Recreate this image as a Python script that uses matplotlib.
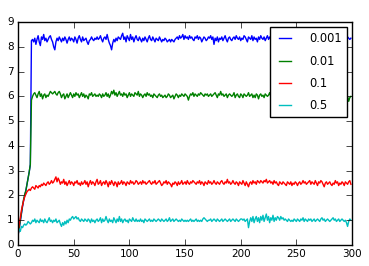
import matplotlib
matplotlib.use("Agg")
import matplotlib.pyplot as plt
import numpy as np

labels = ["0.001", "0.01", "0.1", "0.5"]
colors = ["b", "g", "r", "c"]

ramp_blue = [0.4, 0.65, 0.95, 1.25, 1.55, 1.8, 2.0, 2.2, 2.45, 2.7, 2.95, 3.25]
steady_blue = [
    8.25, 8.3, 8.2, 8.35, 8.1, 8.3, 8.45, 8.2, 8.05, 8.4, 8.3, 8.5, 8.25, 8.35, 8.2, 8.3, 8.4, 8.45, 8.3, 8.2,
    8.0, 7.88, 8.2, 8.35, 8.25, 8.4, 8.3, 8.2, 8.35, 8.25, 8.4, 8.3, 8.15, 8.3, 8.4, 8.25, 8.35, 8.3, 8.2, 8.4,
    8.3, 8.15, 8.35, 8.45, 8.3, 8.2, 8.4, 8.25, 8.3, 8.35, 8.2, 8.1, 8.25, 8.3, 8.4, 8.3, 8.25, 8.35, 8.3, 8.4,
    8.3, 8.35, 8.45, 8.3, 8.2, 8.35, 8.4, 8.3, 8.5, 8.3, 8.15, 8.05, 7.88, 8.15, 8.3, 8.2, 8.35, 8.25, 8.4, 8.35,
    8.3, 8.45, 8.55, 8.3, 8.4, 8.2, 8.45, 8.35, 8.25, 8.5, 8.3, 8.4, 8.2, 8.35, 8.45, 8.3, 8.25, 8.4, 8.3, 8.2,
    8.35, 8.25, 8.4, 8.3, 8.2, 8.35, 8.45, 8.3, 8.25, 8.4, 8.3, 8.2, 8.35, 8.3, 8.25, 8.4, 8.3, 8.2, 8.3, 8.25,
    8.35, 8.3, 8.2, 8.25, 8.3, 8.2, 8.3, 8.25, 8.2, 8.3, 8.35, 8.4, 8.3, 8.45, 8.35, 8.4, 8.5, 8.3, 8.45, 8.35,
    8.4, 8.3, 8.45, 8.35, 8.4, 8.3, 8.25, 8.4, 8.35, 8.45, 8.3, 8.4, 8.35, 8.2, 8.3, 8.4, 8.35, 8.25, 8.3, 8.4,
    8.35, 8.45, 8.3, 8.4, 8.1, 8.35, 8.25, 8.4, 8.2, 8.35, 8.3, 8.4, 8.25, 8.35, 8.45, 8.3, 8.2, 8.35, 8.4, 8.3,
    8.25, 8.35, 8.4, 8.3, 8.45, 8.35, 8.3, 8.4, 8.25, 8.35, 8.3, 8.45, 8.4, 8.3, 8.2, 8.4, 8.35, 8.3, 8.45, 8.25,
    8.4, 8.3, 8.35, 8.2, 8.4, 8.3, 8.45, 8.35, 8.3, 8.4, 8.25, 8.35, 8.45, 8.3, 8.4, 8.3, 8.35, 8.25, 8.4, 8.3,
    8.35, 8.4, 8.3, 8.25, 8.35, 8.3, 8.4, 8.3, 8.15, 8.35, 8.3, 8.4, 8.35, 8.3, 8.25, 8.4, 8.3, 8.35, 8.3, 8.4,
    8.3, 8.35, 8.25, 8.4, 8.3, 8.35, 8.3, 8.4, 8.35, 8.3, 8.25, 8.35, 8.4, 8.3, 8.35, 8.3, 8.4, 8.3, 8.35, 8.3,
    8.25, 8.4, 8.3, 8.35, 8.3, 8.25, 8.4, 8.35, 8.3, 8.4, 8.3, 8.35, 8.25, 8.4, 8.35, 8.3, 8.4, 8.3, 8.35, 8.45,
    8.3, 8.4, 8.35, 8.3, 8.4, 8.35, 8.3, 8.35,
]

ramp_green = [0.4, 0.7, 1.0, 1.3, 1.6, 1.85, 2.05, 2.2, 2.45, 2.7, 2.95, 3.25]
steady_green = [
    5.85, 6.0, 6.1, 6.15, 6.05, 5.95, 6.1, 6.2, 6.0, 6.1, 5.9, 6.05, 6.1, 5.95, 6.05, 6.0, 6.1, 6.2, 6.15, 6.1,
    6.15, 6.2, 6.1, 6.05, 6.15, 6.2, 6.1, 5.95, 6.05, 6.1, 5.9, 6.0, 6.1, 5.95, 6.05, 6.15, 6.05, 5.95, 6.1, 6.0,
    6.15, 6.05, 6.1, 5.95, 6.05, 6.15, 6.0, 6.1, 5.95, 6.05, 6.0, 5.9, 6.1, 6.05, 6.15, 6.0, 6.05, 6.1, 6.0, 6.05,
    6.0, 6.1, 6.05, 5.95, 6.1, 6.0, 6.05, 6.15, 6.0, 6.1, 5.95, 6.05, 6.2, 6.1, 6.25, 6.05, 6.15, 6.0, 6.1, 6.2,
    6.05, 6.1, 6.0, 6.15, 6.05, 6.1, 5.95, 6.05, 6.15, 6.0, 6.1, 6.05, 6.0, 6.15, 6.1, 6.05, 6.2, 6.0, 6.1, 6.05,
    5.95, 6.05, 6.1, 6.0, 6.15, 6.05, 6.1, 6.0, 6.05, 5.95, 6.1, 6.05, 6.0, 5.95, 6.05, 6.1, 6.0, 6.05, 5.95, 6.0,
    6.05, 5.95, 6.0, 6.1, 6.05, 5.95, 6.0, 6.05, 5.9, 6.0, 6.1, 6.05, 5.95, 6.05, 6.0, 6.1, 6.05, 6.0, 6.1, 6.05,
    6.0, 5.85, 6.0, 6.1, 6.05, 6.15, 6.0, 6.1, 6.05, 6.0, 6.1, 6.05, 6.15, 6.1, 6.05, 6.0, 6.1, 6.05, 6.1, 6.0,
    6.05, 6.1, 6.0, 6.05, 6.1, 6.15, 6.05, 5.95, 6.1, 6.05, 6.2, 6.05, 6.1, 6.0, 6.05, 6.1, 5.95, 6.05, 6.1, 6.05,
    6.0, 6.05, 6.15, 5.95, 6.05, 6.1, 6.0, 5.95, 6.1, 6.05, 5.95, 6.1, 6.05, 6.0, 6.05, 6.15, 6.0, 6.05, 6.1, 5.95,
    6.05, 5.95, 6.1, 6.05, 5.9, 6.05, 6.1, 6.0, 6.05, 5.95, 6.1, 6.05, 6.0, 6.05, 6.15, 6.0, 6.05, 5.95, 6.1, 6.05,
    6.0, 6.05, 6.1, 5.95, 6.05, 6.0, 6.15, 6.05, 6.0, 6.05, 6.1, 5.95, 6.05, 6.0, 6.1, 6.05, 5.95, 6.05, 6.1, 6.0,
    6.05, 5.95, 6.1, 6.05, 6.0, 6.05, 6.15, 6.0, 6.05, 5.95, 6.1, 6.05, 6.0, 6.05, 6.1, 5.95, 6.05, 6.0, 6.1, 6.05,
    6.0, 6.05, 6.1, 6.0, 6.05, 5.95, 6.1, 6.05, 6.0, 6.05, 6.1, 6.0, 6.05, 5.95, 6.1, 6.05, 6.0, 6.05, 6.1, 5.85,
    6.0, 6.1, 6.05, 5.95, 6.0, 5.8, 5.95, 6.0,
]

ramp_red = [0.4, 0.85, 1.1, 1.4, 1.6, 1.8, 1.95, 2.05, 2.15, 2.2, 2.25, 2.2, 2.3, 2.35, 2.3, 2.25, 2.4, 2.35, 2.3, 2.4]
steady_red = [
    2.35, 2.45, 2.4, 2.5, 2.45, 2.4, 2.5, 2.55, 2.45, 2.5, 2.6, 2.5, 2.55, 2.65, 2.75, 2.55, 2.7, 2.6, 2.45, 2.55,
    2.5, 2.65, 2.45, 2.55, 2.4, 2.5, 2.6, 2.45, 2.55, 2.5, 2.4, 2.55, 2.5, 2.6, 2.45, 2.5, 2.4, 2.55, 2.45, 2.5,
    2.6, 2.45, 2.55, 2.35, 2.5, 2.6, 2.45, 2.55, 2.5, 2.4, 2.55, 2.65, 2.45, 2.5, 2.6, 2.4, 2.5, 2.55, 2.45, 2.6,
    2.5, 2.35, 2.55, 2.45, 2.6, 2.5, 2.4, 2.55, 2.5, 2.35, 2.55, 2.45, 2.5, 2.6, 2.45, 2.55, 2.5, 2.4, 2.55, 2.5,
    2.45, 2.6, 2.5, 2.55, 2.45, 2.5, 2.6, 2.55, 2.45, 2.5, 2.55, 2.45, 2.6, 2.5, 2.55, 2.45, 2.5, 2.55, 2.6, 2.5,
    2.45, 2.55, 2.5, 2.6, 2.45, 2.5, 2.55, 2.6, 2.5, 2.4, 2.45, 2.55, 2.5, 2.6, 2.45, 2.55, 2.5, 2.45, 2.35, 2.5,
    2.45, 2.55, 2.5, 2.4, 2.55, 2.45, 2.5, 2.6, 2.45, 2.5, 2.55, 2.45, 2.6, 2.5, 2.45, 2.55, 2.5, 2.6, 2.55, 2.5,
    2.45, 2.55, 2.5, 2.6, 2.45, 2.55, 2.5, 2.4, 2.55, 2.5, 2.45, 2.6, 2.5, 2.55, 2.45, 2.5, 2.6, 2.5, 2.45, 2.55,
    2.5, 2.45, 2.55, 2.6, 2.5, 2.45, 2.55, 2.5, 2.65, 2.5, 2.55, 2.45, 2.5, 2.6, 2.5, 2.45, 2.55, 2.5, 2.4, 2.55,
    2.5, 2.45, 2.6, 2.5, 2.4, 2.55, 2.45, 2.35, 2.5, 2.55, 2.45, 2.6, 2.5, 2.55, 2.45, 2.6, 2.55, 2.5, 2.6, 2.55,
    2.5, 2.6, 2.55, 2.65, 2.5, 2.55, 2.6, 2.5, 2.55, 2.45, 2.6, 2.5, 2.55, 2.45, 2.4, 2.55, 2.5, 2.45, 2.55, 2.5,
    2.45, 2.4, 2.55, 2.5, 2.45, 2.55, 2.4, 2.5, 2.45, 2.55, 2.5, 2.4, 2.5, 2.55, 2.45, 2.5, 2.6, 2.5, 2.55, 2.45,
    2.5, 2.55, 2.6, 2.45, 2.55, 2.5, 2.45, 2.6, 2.5, 2.4, 2.55, 2.5, 2.6, 2.55, 2.45, 2.35, 2.5, 2.55, 2.45, 2.5,
    2.55, 2.45, 2.4, 2.5, 2.45, 2.6, 2.5, 2.55, 2.4, 2.5, 2.45, 2.55, 2.5, 2.4, 2.55, 2.5, 2.45, 2.55, 2.6, 2.45,
]

ramp_cyan = [0.5, 0.65, 0.55, 0.75, 0.7, 0.8, 0.85, 0.8, 0.85, 0.95, 0.9, 0.85]
steady_cyan = [
    0.9, 1.0, 0.95, 1.05, 0.9, 1.0, 0.95, 0.9, 1.05, 0.95, 1.0, 0.9, 1.05, 0.95, 0.9, 1.0, 1.1, 0.95, 1.0, 0.9,
    1.0, 0.95, 1.05, 0.9, 0.95, 1.0, 0.85, 0.75, 0.9, 0.8, 0.95, 0.85, 1.0, 0.9, 1.05, 1.0, 1.1, 1.15, 1.05, 1.1,
    1.15, 1.05, 1.1, 1.0, 0.95, 1.05, 1.0, 0.95, 1.05, 1.0, 0.95, 1.05, 1.0, 0.9, 1.05, 0.95, 1.0, 0.9, 1.0, 1.05,
    0.95, 1.0, 1.1, 0.9, 1.05, 0.95, 1.0, 1.15, 1.0, 0.9, 1.05, 0.95, 1.0, 0.9, 1.1, 1.0, 0.9, 1.05, 0.95, 1.15,
    0.95, 1.05, 0.9, 1.0, 1.05, 0.95, 1.0, 0.9, 1.05, 1.0, 0.95, 1.1, 1.0, 0.95, 1.05, 0.95, 1.0, 0.95, 1.05, 0.95,
    1.0, 0.9, 1.05, 1.0, 0.95, 1.0, 1.05, 0.95, 1.0, 0.95, 1.05, 1.0, 0.95, 1.0, 1.05, 1.0, 0.95, 1.05, 1.0, 0.95,
    1.0, 1.05, 0.95, 1.0, 1.1, 0.95, 1.0, 1.05, 0.95, 1.0, 1.05, 1.0, 0.95, 1.0, 0.95, 1.05, 1.0, 0.95, 1.0, 0.95,
    1.0, 0.95, 1.0, 1.05, 0.95, 1.0, 0.95, 1.0, 1.05, 0.95, 1.0, 0.95, 1.0, 0.95, 1.05, 1.1, 1.05, 1.0, 0.95, 1.0,
    1.0, 1.05, 0.95, 1.0, 1.05, 1.0, 0.95, 1.05, 1.0, 0.95, 1.0, 1.05, 0.95, 1.0, 1.05, 1.0, 0.95, 1.0, 1.05, 0.95,
    1.0, 1.05, 1.0, 0.95, 1.05, 1.0, 0.95, 1.0, 1.05,
    1.05, 1.0, 1.05, 0.95, 1.0, 1.05, 0.7, 0.95, 1.1, 0.95, 1.15, 0.9, 1.05, 1.15, 0.95, 1.1, 0.9, 1.15, 1.0, 1.2,
    0.95, 1.1, 1.25, 1.0, 1.15, 0.9, 1.1, 1.0, 1.2, 0.95, 1.1, 1.0, 1.15, 1.1, 1.0, 1.15, 1.05, 1.1, 1.0, 1.05,
    1.0, 0.95, 1.05, 1.0, 0.95, 1.0, 0.95, 1.05, 1.0, 0.95, 1.05, 1.0, 0.95, 1.05, 1.0, 1.1, 0.95, 1.05, 1.0, 0.95,
    1.05, 1.0, 1.05, 0.95, 1.0, 1.05, 0.95, 1.0, 1.05, 1.0, 0.95, 1.05, 1.1, 1.0, 1.05, 0.95, 1.0, 1.05, 1.0, 0.95,
    1.0, 1.05, 1.1, 1.0, 1.05, 0.95, 1.0, 1.05, 0.95, 1.0, 1.05, 1.0, 0.95, 1.0, 0.9, 0.75, 0.95, 1.05, 1.0,
]

series = [
    ramp_blue + steady_blue,
    ramp_green + steady_green,
    ramp_red + steady_red,
    ramp_cyan + steady_cyan,
]

plt.style.use("classic")
fig = plt.figure(figsize=(3.69, 2.66), dpi=100, facecolor="white")
ax = fig.add_axes([0.049, 0.079, 0.905, 0.838])

for values, color, label in zip(series, colors, labels):
    y = np.array(values)
    ax.plot(np.arange(len(y)), y, color=color, lw=1.0, label=label)

ax.set_xlim(0, 300)
ax.set_ylim(0, 9)
ax.set_xticks(np.arange(0, 301, 50))
ax.set_yticks(np.arange(0, 10, 1))
ax.tick_params(labelsize=7.5, pad=3)
ax.legend(loc="upper right", fontsize=8.3, handlelength=1.6, handletextpad=1.3,
          labelspacing=0.8, borderpad=0.45, borderaxespad=0.45)

fig.savefig("out.png", dpi=100, facecolor="white")
